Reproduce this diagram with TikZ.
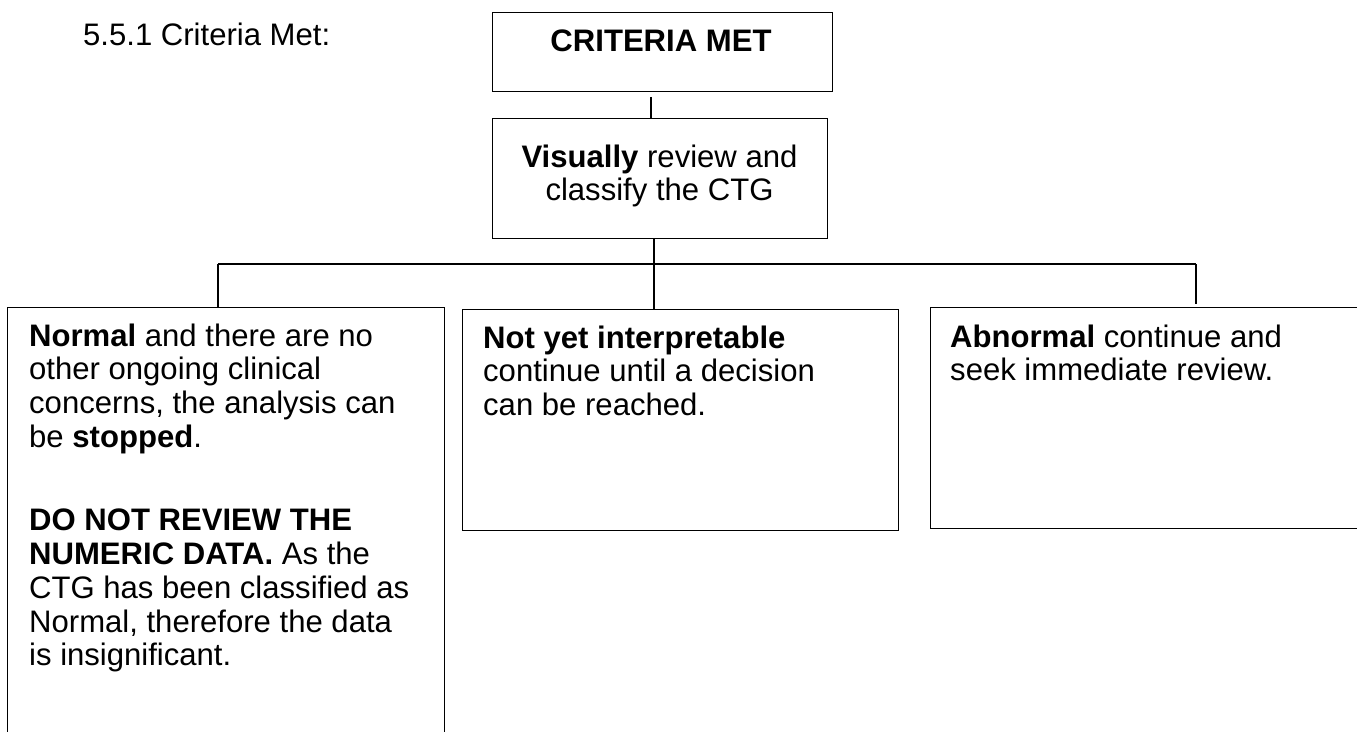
\documentclass[tikz,border=0pt]{standalone}
\usepackage{fontspec}
\setmainfont{Liberation Sans}
\begin{document}
\begin{tikzpicture}[x=1bp,y=-1bp,
  box/.style={draw=black, line width=1.4bp, inner sep=0, anchor=north west},
  tx/.style={inner sep=0, anchor=base west, font=\fontsize{31.2}{34}\selectfont},
  conn/.style={draw=black, line width=1.5bp}]
\clip (0,0) rectangle (1357,731);
\fill[white] (0,0) rectangle (1357,731);
% boxes
\node[box, minimum width=340bp, minimum height=79bp] (top) at (492,12) {};
\node[box, minimum width=335bp, minimum height=120bp] (vis) at (492,118) {};
\node[box, minimum width=437bp, minimum height=520bp] (left) at (7,307) {};
\node[box, minimum width=436bp, minimum height=221bp] (mid) at (462,309) {};
\node[box, minimum width=500bp, minimum height=221bp] (right) at (930,307) {};
% texts
\node[tx] (head) at (83,46) {5.5.1 Criteria Met:};
\node[tx, anchor=base] (ttop) at (661,52) {\textbf{CRITERIA MET}};
\node[tx, anchor=base] (tvis) at (659.5,167) {\parbox[t]{320bp}{\centering\textbf{Visually} review and\\ classify the CTG}};
\node[tx] (tleft) at (29,346) {\parbox[t]{412bp}{\raggedright
  \textbf{Normal} and there are no\\
  other ongoing clinical\\
  concerns, the analysis can\\
  be \textbf{stopped}.\\[49bp]
  \textbf{DO NOT REVIEW THE}\\
  \textbf{NUMERIC DATA.} As the\\
  CTG has been classified as\\
  Normal, therefore the data\\
  is insignificant.}};
\node[tx] (tmid) at (483,348) {\parbox[t]{410bp}{\raggedright
  \textbf{Not yet interpretable}\\
  continue until a decision\\
  can be reached.}};
\node[tx] (tright) at (950,347) {\parbox[t]{400bp}{\raggedright
  \textbf{Abnormal} continue and\\
  seek immediate review.}};
% connectors
\coordinate (c1) at (651,97);
\coordinate (busL) at (218,264);
\coordinate (busM) at (654,264);
\coordinate (busR) at (1196,264);
\draw[conn] (c1) -- (c1 |- vis.north);
\draw[conn] (busM |- vis.south) -- (busM |- mid.north);
\draw[conn] (busL) -- (busR);
\draw[conn] (busL) -- (busL |- left.north);
\draw[conn] (busR) -- ([yshift=3bp]busR |- right.north);
\end{tikzpicture}
\end{document}
